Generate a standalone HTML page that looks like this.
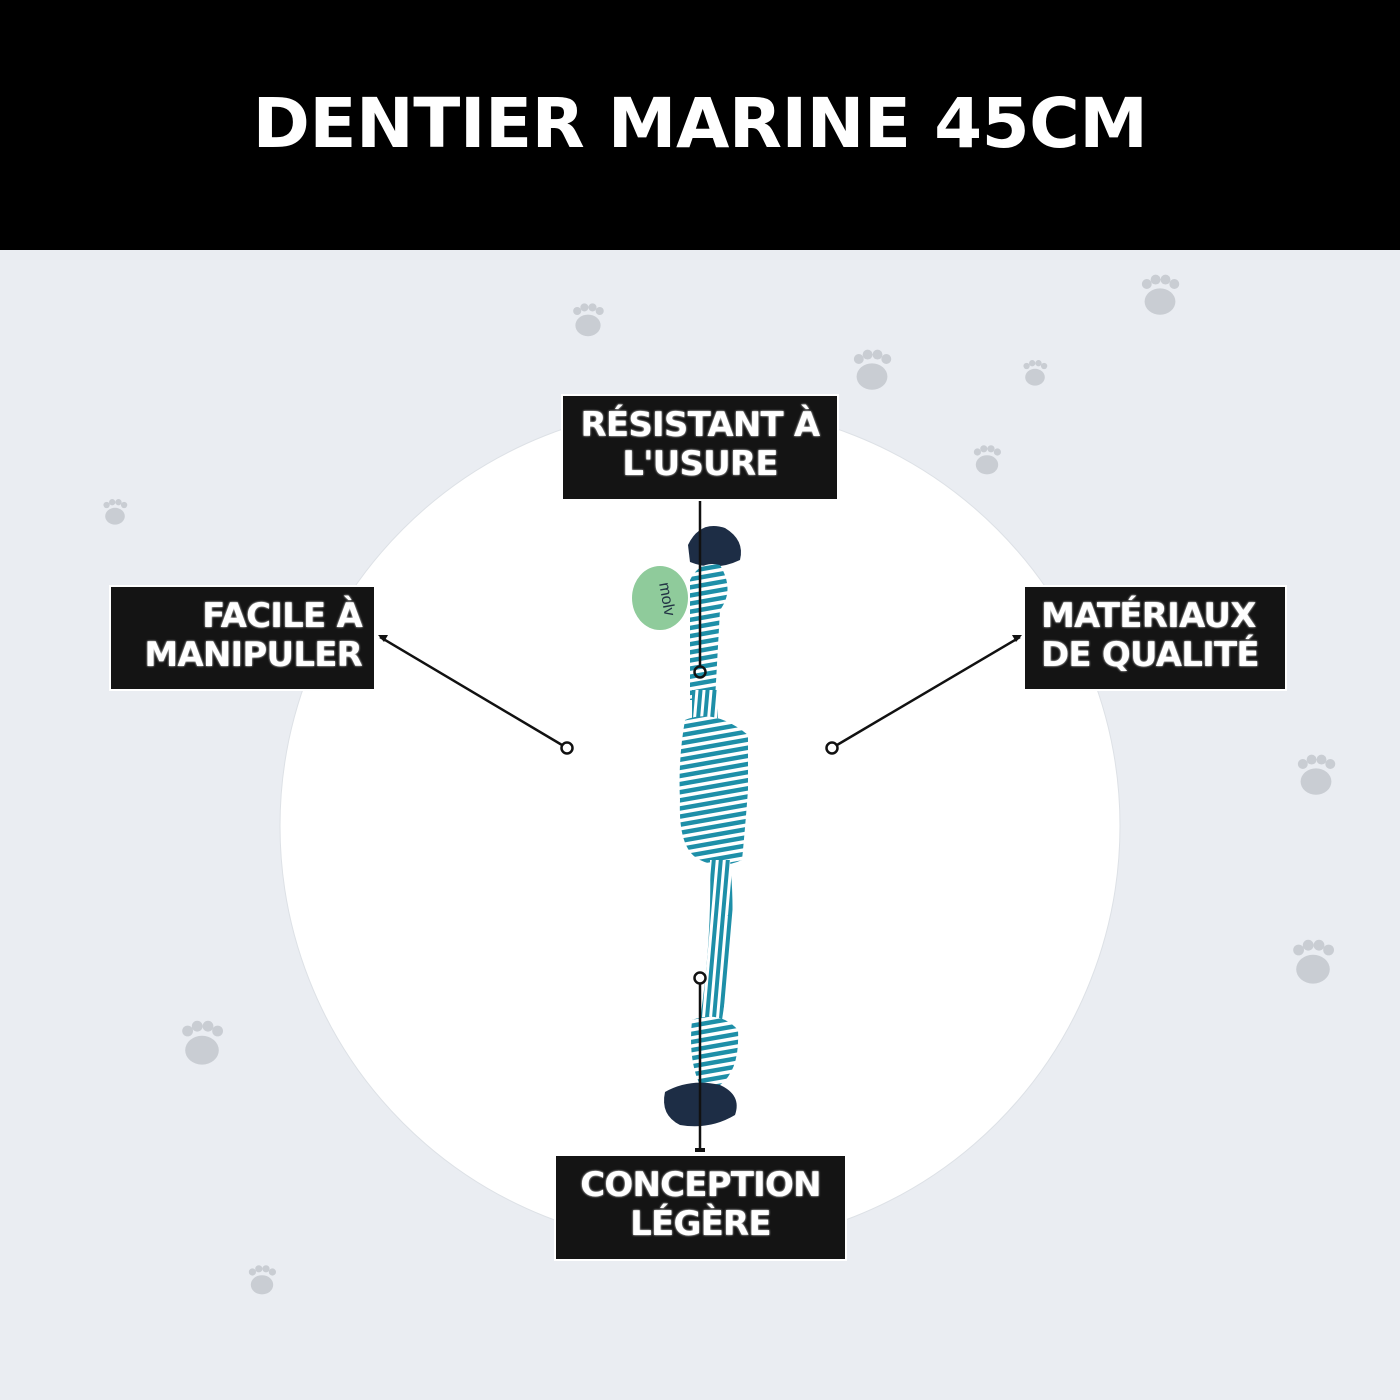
<!DOCTYPE html>
<html><head><meta charset="utf-8"><style>
body{margin:0;width:1400px;height:1400px;background:#eaedf2;position:relative;overflow:hidden;font-family:"DejaVu Sans","Liberation Sans",sans-serif;}
.hdr{position:absolute;left:0;top:0;width:1400px;height:250px;background:#000;color:#fff;font-weight:bold;font-size:69px;text-align:center;line-height:248px;letter-spacing:-0.5px}
.box{position:absolute;background:#141414;border:2px solid #fff;color:#fff;font-weight:bold;font-size:34px;line-height:39px;box-sizing:border-box;white-space:nowrap;letter-spacing:-0.8px;text-shadow:0 0 2px #fff}
</style></head><body>
<div class="hdr">DENTIER MARINE 45CM</div>
<svg width="1400" height="1400" style="position:absolute;left:0;top:0">
<defs>
<pattern id="st" width="8" height="8" patternUnits="userSpaceOnUse" patternTransform="rotate(-10)">
<rect width="8" height="8" fill="#fff"/><rect width="8" height="4.5" fill="#1e8fa8"/></pattern>
<pattern id="sv" width="7" height="7" patternUnits="userSpaceOnUse" patternTransform="rotate(5)">
<rect width="7" height="7" fill="#fff"/><rect width="4" height="7" fill="#1e8fa8"/></pattern>
<g id="paw" fill="#c9cdd3"><ellipse cx="0" cy="6" rx="14" ry="12"/><circle cx="-12" cy="-10" r="4.5"/><circle cx="-4" cy="-14" r="4.5"/><circle cx="5" cy="-14" r="4.5"/><circle cx="13" cy="-10" r="4.5"/></g>
</defs>
<circle cx="700" cy="826" r="420" fill="#fff" stroke="#dde1e6"/>
<use href="#paw" transform="translate(588,320) scale(0.9)"/>
<use href="#paw" transform="translate(1160,295) scale(1.1)"/>
<use href="#paw" transform="translate(872,370) scale(1.1)"/>
<use href="#paw" transform="translate(1035,373) scale(0.7)"/>
<use href="#paw" transform="translate(987,460) scale(0.8)"/>
<use href="#paw" transform="translate(115,512) scale(0.7)"/>
<use href="#paw" transform="translate(1316,775) scale(1.1)"/>
<use href="#paw" transform="translate(1313,962) scale(1.2)"/>
<use href="#paw" transform="translate(202,1043) scale(1.2)"/>
<use href="#paw" transform="translate(262,1280) scale(0.8)"/>
<ellipse cx="660" cy="598" rx="28" ry="32" fill="#8fcb9b"/>
<text x="662" y="600" font-size="16" font-family="Liberation Sans" fill="#234" transform="rotate(80 662 600)" text-anchor="middle">molv</text>
<path d="M688 545 Q700 520 725 528 Q745 540 740 560 Q715 572 690 562Z" fill="#1d2d45"/>
<path d="M690 580 Q700 560 720 565 Q735 590 720 610 L715 700 L690 700 L690 610 Z" fill="url(#st)"/>
<path d="M692 690 L718 690 L718 720 L692 720Z" fill="url(#sv)"/>
<path d="M685 720 Q715 708 748 735 L748 790 Q745 830 742 860 Q720 870 700 860 Q678 850 680 800 Q678 760 685 720Z" fill="url(#st)"/>
<path d="M710 860 L730 860 Q736 920 728 980 L722 1020 L700 1020 Q712 940 710 860Z" fill="url(#sv)"/>
<path d="M692 1020 Q720 1010 738 1030 Q740 1070 720 1085 L700 1085 Q688 1060 692 1020Z" fill="url(#st)"/>
<path d="M665 1092 Q690 1078 720 1085 Q742 1095 735 1115 Q710 1130 680 1125 Q660 1115 665 1092Z" fill="#1d2d45"/>
<g stroke="#111" stroke-width="2.5" fill="none">
<line x1="700" y1="500" x2="700" y2="667"/>
<circle cx="700" cy="672" r="5.5"/>
<line x1="700" y1="983" x2="700" y2="1150"/>
<circle cx="700" cy="978" r="5.5"/>
<line x1="562" y1="745" x2="380" y2="637"/>
<circle cx="567" cy="748" r="5.5"/>
<line x1="837" y1="745" x2="1020" y2="637"/>
<circle cx="832" cy="748" r="5.5"/>
</g>
<g fill="#111">
<path d="M378 635 l10 0 l-4 7z"/>
<path d="M1022 635 l-10 0 l4 7z"/>
<rect x="695" y="1148" width="10" height="4"/>
</g>
</svg>
<div class="box" style="left:561px;top:394px;width:278px;height:107px;text-align:center;padding-top:10px">RÉSISTANT À<br>L'USURE</div>
<div class="box" style="left:109px;top:585px;width:267px;height:106px;text-align:right;padding:10px 12px 0 0">FACILE À<br>MANIPULER</div>
<div class="box" style="left:1023px;top:585px;width:264px;height:106px;text-align:left;padding:10px 0 0 16px">MATÉRIAUX<br>DE QUALITÉ</div>
<div class="box" style="left:554px;top:1154px;width:293px;height:107px;text-align:center;padding-top:10px">CONCEPTION<br>LÉGÈRE</div>
</body></html>
